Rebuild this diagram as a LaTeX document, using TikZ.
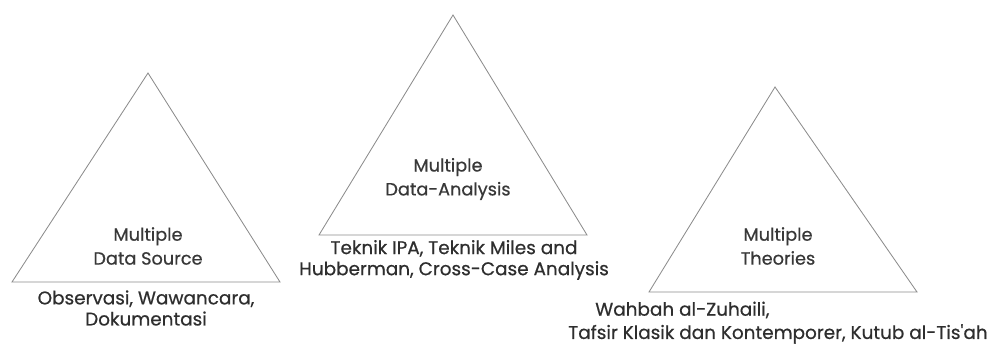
\documentclass[tikz,border=0pt]{standalone}
\usepackage{fontspec}
\setmainfont{Poppins}
\newfontfamily\labelfont{Poppins}[FakeBold=0.6]
\usepackage{tikz}

\tikzset{
  tri/.style={draw=black!45, line width=0.6pt, line join=miter},
  inlabel/.style={align=center, text=black!78, font=\labelfont\fontsize{12.6}{17}\selectfont, inner sep=0pt},
  outlabel/.style={align=center, text=black!82, font=\labelfont\fontsize{13.1}{15}\selectfont, inner sep=0pt}
}

\begin{document}
\begin{tikzpicture}[x=0.025cm, y=-0.025cm]
    \useasboundingbox (0,0) rectangle (992,344);

    \coordinate (srcTop) at (148,73);
    \coordinate (srcL) at (12,282);
    \coordinate (srcR) at (280,282);
    \draw[tri] (srcTop) -- (srcR) -- (srcL) -- cycle;
    \node[inlabel] (srcIn) at (148,246) {Multiple\\Data Source};
    \node[outlabel] (srcOut) at (146,308) {Observasi, Wawancara,\\Dokumentasi};

    \coordinate (anaTop) at (453,15);
    \coordinate (anaL) at (319,235);
    \coordinate (anaR) at (587,235);
    \draw[tri] (anaTop) -- (anaR) -- (anaL) -- cycle;
    \node[inlabel] (anaIn) at (448,179) {Multiple\\Data-Analysis};
    \node[outlabel] (anaOut) at (454,260) {Teknik IPA, Teknik Miles and\\Hubberman, Cross-Case Analysis};

    \coordinate (theTop) at (775,87);
    \coordinate (theL) at (649,292);
    \coordinate (theR) at (917,292);
    \draw[tri] (theTop) -- (theR) -- (theL) -- cycle;
    \node[inlabel] (theIn) at (778,246) {Multiple\\Theories};
    \node[outlabel, anchor=west] (theOutA) at (595,310) {Wahbah al-Zuhaili,};
    \node[outlabel, anchor=west] (theOutB) at (568,334) {Tafsir Klasik dan Kontemporer, Kutub al-Tis'ah};
  \end{tikzpicture}
\end{document}
